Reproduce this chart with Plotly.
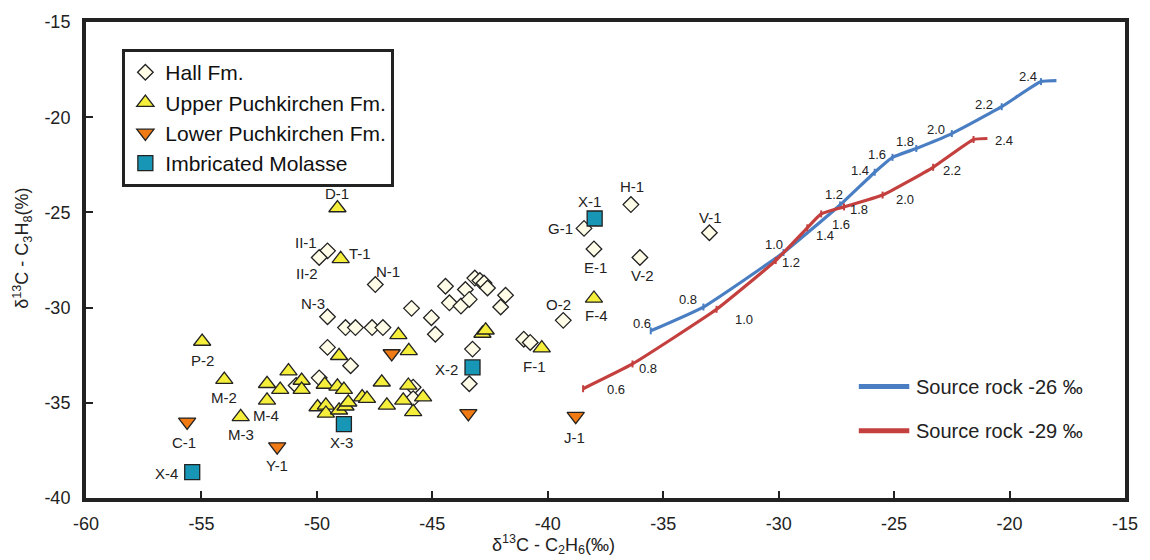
import plotly.graph_objects as go

# ---------------- data ----------------
hall_x = [-49.54, -49.90, -47.47, -49.54, -48.76, -48.33, -47.61, -47.14, -45.90, -45.04,
          -44.87, -44.43, -44.26, -43.76, -43.57, -43.40, -43.16, -42.94, -42.76, -42.61,
          -41.83, -42.04, -41.04, -40.76, -43.26, -43.40, -39.33, -38.43, -36.40, -38.00,
          -36.01, -33.00, -49.54, -48.54, -50.90, -49.90, -45.83, -45.83]
hall_y = [-27.02, -27.37, -28.79, -30.48, -31.05, -31.05, -31.05, -31.05, -30.04, -30.53,
          -31.40, -28.88, -29.75, -29.92, -29.05, -29.57, -28.45, -28.58, -28.71, -28.97,
          -29.35, -29.97, -31.66, -31.83, -32.18, -34.00, -30.67, -25.84, -24.59, -26.92,
          -27.37, -26.07, -32.09, -33.05, -34.09, -33.69, -34.18, -34.78]
hall_labels = ["II-1", "II-2", "N-1", "N-3", "", "", "", "", "", "",
               "", "", "", "", "", "", "", "", "", "",
               "", "", "", "", "", "", "O-2", "G-1", "H-1", "E-1",
               "V-2", "V-1", "", "", "", "", "", ""]

upper_x = [-49.11, -48.97, -46.47, -46.02, -42.83, -42.69, -40.26, -38.00, -54.97, -54.01,
           -53.30, -52.16, -52.16, -51.59, -51.23, -50.66, -50.66, -49.04, -49.66, -49.11,
           -48.83, -49.97, -49.61, -49.61, -49.04, -48.76, -48.64, -48.04, -47.83, -47.19,
           -46.97, -46.26, -46.04, -45.40, -45.83]
upper_y = [-24.77, -27.44, -31.43, -32.27, -31.36, -31.19, -32.13, -29.52, -31.78, -33.78,
           -35.74, -34.87, -34.00, -34.31, -33.34, -33.83, -34.31, -32.53, -34.04, -34.14,
           -34.31, -35.22, -35.13, -35.56, -35.39, -35.18, -34.97, -34.70, -34.78, -33.92,
           -35.13, -34.87, -34.09, -34.70, -35.48]
upper_labels = ["D-1", "T-1", "", "", "", "", "F-1", "F-4", "P-2", "M-2",
                "M-3", "M-4", "", "", "", "", "", "", "", "",
                "", "", "", "", "", "", "", "", "", "",
                "", "", "", "", ""]

lower_x = [-46.76, -43.44, -38.79, -55.62, -51.72]
lower_y = [-32.41, -35.56, -35.70, -36.00, -37.30]
lower_labels = ["", "", "J-1", "C-1", "Y-1"]

imb_x = [-37.97, -43.26, -48.83, -55.40]
imb_y = [-25.32, -33.14, -36.12, -38.64]
imb_labels = ["X-1", "X-2", "X-3", "X-4"]

maturity = ["0.6", "0.8", "1.0", "1.2", "1.4", "1.6", "1.8", "2.0", "2.2", "2.4", ""]
blue_x = [-35.54, -33.26, -29.79, -27.34, -25.84, -25.07, -24.04, -22.50, -20.34, -18.64, -17.97]
blue_y = [-31.22, -29.97, -27.11, -24.61, -22.89, -22.11, -21.64, -20.86, -19.45, -18.13, -18.08]
red_x = [-38.47, -36.33, -32.69, -30.13, -28.76, -28.16, -27.17, -25.50, -23.31, -21.56, -20.96]
red_y = [-34.26, -32.96, -30.09, -27.53, -25.81, -25.08, -24.71, -24.09, -22.63, -21.17, -21.12]

x_ticks = [-60, -55, -50, -45, -40, -35, -30, -25, -20, -15]
y_ticks = [-40, -35, -30, -25, -20, -15]

# ---------------- styles / label placement (pixels) ----------------
FONT = "Arial, Liberation Sans, sans-serif"
INK = "#222222"
BLUE = "#4A7EC3"
RED = "#C4403E"

point_label_offsets = {
    "II-1": (-22, 8), "II-2": (-12, -16), "N-1": (13, 13), "N-3": (-15, 13),
    "O-2": (-5, 16), "G-1": (-24, 0), "H-1": (1, 18), "E-1": (2, -19),
    "V-2": (3, -18), "V-1": (1, 15),
    "D-1": (0, 15), "T-1": (19, 5), "F-1": (-7, -18), "F-4": (3, -17),
    "P-2": (0, -19), "M-2": (0, -18), "M-3": (0, -18), "M-4": (-1, -15),
    "J-1": (-1, -21), "C-1": (-3, -21), "Y-1": (0, -19),
    "X-1": (-5, 17), "X-2": (-26, -2), "X-3": (-2, -18), "X-4": (-26, -1),
}
blue_lab_dx = [-9, -15, -10, -6, -15, -15, -11, -16, -18, -13, 0]
blue_lab_dy = [7, 8, 8, 10, 2, 3, 7, 4, 2, 5, 0]
red_lab_dx = [33, 15, 27, 15, 18, 20, 15, 22, 19, 30, 0]
red_lab_dy = [-1, -5, -10, -2, -8, -11, -3, -4, -3, -1, 0]

fig = go.Figure()

series = [
    ("Hall Fm.", hall_x, hall_y, hall_labels, "diamond", 12, "#FFFDE8"),
    ("Upper Puchkirchen Fm.", upper_x, upper_y, upper_labels, "triangle-up", 15, "#F5EE3B"),
    ("Lower Puchkirchen Fm.", lower_x, lower_y, lower_labels, "triangle-down", 15, "#F07A13"),
    ("Imbricated Molasse", imb_x, imb_y, imb_labels, "square", 15, "#1797B5"),
]

# curves first (under markers)
for name, xs, ys, col in [("Source rock -26 ‰", blue_x, blue_y, BLUE),
                          ("Source rock -29 ‰", red_x, red_y, RED)]:
    fig.add_trace(go.Scatter(
        x=xs, y=ys, mode="lines", name=name, showlegend=False,
        line=dict(color=col, width=3.2, shape="spline", smoothing=0.4), hoverinfo="skip"))
    fig.add_trace(go.Scatter(
        x=xs[:-1], y=ys[:-1], mode="markers", showlegend=False, hoverinfo="skip",
        marker=dict(symbol="line-ns-open", size=5, color=col,
                    line=dict(color=col, width=2))))

for name, xs, ys, labs, sym, size, fill in series:
    fig.add_trace(go.Scatter(
        x=xs, y=ys, mode="markers", name=name,
        marker=dict(symbol=sym, size=size, color=fill,
                    line=dict(color=INK, width=1.3)),
        text=labs))

annotations = []
for name, xs, ys, labs, sym, size, fill in series:
    for x, y, lab in zip(xs, ys, labs):
        if lab:
            dx, dy = point_label_offsets[lab]
            annotations.append(dict(
                x=x, y=y, xref="x", yref="y", text=lab, showarrow=False,
                xshift=dx, yshift=dy, font=dict(family=FONT, size=15, color=INK)))

for xs, ys, dxs, dys in [(blue_x, blue_y, blue_lab_dx, blue_lab_dy),
                         (red_x, red_y, red_lab_dx, red_lab_dy)]:
    for x, y, m, dx, dy in zip(xs, ys, maturity, dxs, dys):
        if m:
            annotations.append(dict(
                x=x, y=y, xref="x", yref="y", text=m, showarrow=False,
                xshift=dx, yshift=dy, font=dict(family=FONT, size=13, color=INK)))

# axis titles
annotations.append(dict(
    x=0.4495, y=-0.097, xref="paper", yref="paper", showarrow=False,
    text="δ<sup>13</sup>C - C<sub>2</sub>H<sub>6</sub>(‰)",
    font=dict(family=FONT, size=18, color=INK), xanchor="center", yanchor="middle"))
annotations.append(dict(
    x=-0.0615, y=0.524, xref="paper", yref="paper", showarrow=False, textangle=-90,
    text="δ<sup>13</sup>C - C<sub>3</sub>H<sub>8</sub>(%)",
    font=dict(family=FONT, size=18, color=INK), xanchor="center", yanchor="middle"))

# lower-right key for the two curves
shapes = []
for yy, col, txt in [(0.234, BLUE, "Source rock -26 ‰"), (0.1413, RED, "Source rock -29 ‰")]:
    shapes.append(dict(type="line", xref="paper", yref="paper",
                       x0=0.7438, x1=0.7924, y0=yy, y1=yy,
                       line=dict(color=col, width=5)))
    annotations.append(dict(x=0.797, y=yy, xref="paper", yref="paper", text=txt,
                            showarrow=False, xanchor="left", yanchor="middle",
                            font=dict(family=FONT, size=20, color=INK)))

axis_common = dict(
    showline=True, mirror=True, linewidth=4, linecolor=INK,
    ticks="inside", ticklen=7, tickwidth=1.5, tickcolor=INK,
    showgrid=False, zeroline=False,
    tickfont=dict(family=FONT, size=18, color=INK),
)

fig.update_layout(
    width=1150, height=560,
    margin=dict(l=86, r=14, t=18, b=62),
    paper_bgcolor="white", plot_bgcolor="white",
    font=dict(family=FONT, color=INK),
    xaxis=dict(range=[-60, -15], tickvals=x_ticks, ticktext=[str(v) for v in x_ticks],
               ticklabelstandoff=6, **axis_common),
    yaxis=dict(range=[-40, -15], tickvals=y_ticks, ticktext=[str(v) for v in y_ticks],
               ticklabelstandoff=8, **axis_common),
    legend=dict(x=0.035, y=0.943, xanchor="left", yanchor="top",
                bgcolor="white", bordercolor=INK, borderwidth=3,
                font=dict(family=FONT, size=21, color="#111111"),
                tracegroupgap=0, itemwidth=30),
    annotations=annotations,
    shapes=shapes,
    hovermode="closest",
)

fig.write_html("out.html")
